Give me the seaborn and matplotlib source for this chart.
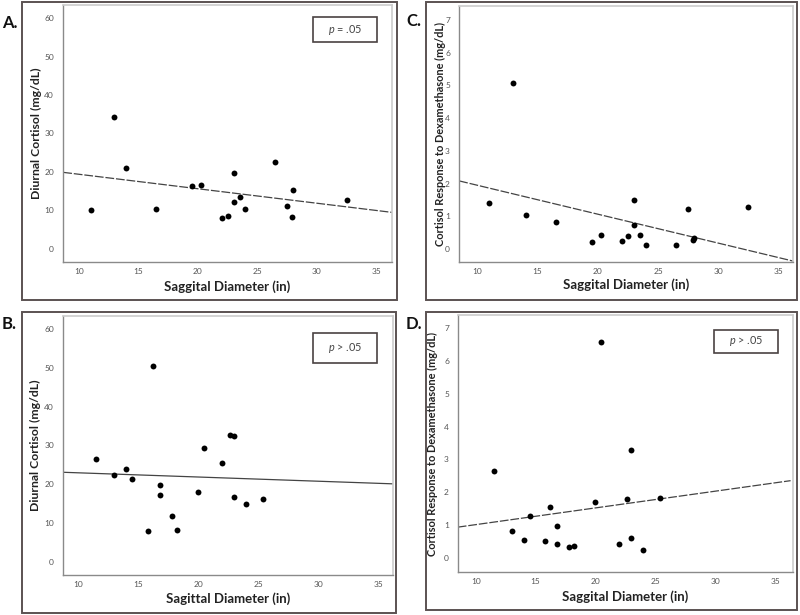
import matplotlib
matplotlib.use('Agg')
import matplotlib.pyplot as plt
import seaborn as sns
from matplotlib.patches import Rectangle

# saggital diameter (in) - same subjects in panels A and C
diam_ac = [11.0, 13.0, 14.0, 16.5, 19.5, 20.3, 22.0, 22.5, 23.0, 23.0, 23.5, 24.0, 26.5, 27.5, 28.0, 27.9, 32.5]
cort_a = [10.0, 34.2, 21.0, 10.4, 16.3, 16.5, 8.1, 8.5, 19.7, 12.2, 13.4, 10.3, 22.7, 11.1, 15.2, 8.3, 12.8]
dex_c = [1.39, 5.08, 1.04, 0.81, 0.20, 0.44, 0.24, 0.39, 1.49, 0.74, 0.42, 0.13, 0.13, 1.21, 0.33, 0.26, 1.28]

# panels B and D
diam_bd = [11.5, 13.0, 14.0, 14.5, 15.8, 16.2, 16.8, 16.8, 17.8, 18.2, 20.0, 20.5, 22.0, 22.6, 23.0, 23.0, 24.0, 25.4]
cort_b = [26.4, 22.5, 23.9, 21.3, 7.9, 50.4, 19.8, 17.2, 11.9, 8.3, 17.9, 29.3, 25.6, 32.8, 32.5, 16.6, 15.0, 16.1]
dex_d = [2.66, 0.80, 0.54, 1.26, 0.50, 1.54, 0.97, 0.43, 0.31, 0.34, 1.69, 6.59, 0.43, 1.79, 3.29, 0.61, 0.22, 1.82]

# fit lines, values at the left / right edge of each plot
fit_x_ab = [8.7, 36.3]
fit_a = [19.9, 9.5]
fit_b = [23.1, 20.1]
fit_x_cd = [8.5, 36.3]
fit_c = [2.08, -0.38]
fit_d = [0.93, 2.35]

cort_ticks = [0, 10, 20, 30, 40, 50, 60]
dex_ticks = [0, 1, 2, 3, 4, 5, 6, 7]
diam_ticks = [10, 15, 20, 25, 30, 35]

sns.set_theme(style='white')
plt.rcParams['font.family'] = ['Lato', 'DejaVu Sans']
plt.rcParams['mathtext.fontset'] = 'custom'
plt.rcParams['mathtext.it'] = 'Lato:italic'
plt.rcParams['mathtext.rm'] = 'Lato'

W, H = 800, 615
fig = plt.figure(figsize=(8, 6.15), dpi=100)


def fbox(l, t, r, b):
    return [l / W, 1 - b / H, (r - l) / W, (b - t) / H]


def frame(l, t, r, b):
    x, y, w, h = fbox(l, t, r, b)
    fig.patches.append(Rectangle((x, y), w, h, transform=fig.transFigure,
                                 fill=False, edgecolor='#5b5252', linewidth=1.4))


def pbox(l, t, r, b, txt):
    x, y, w, h = fbox(l, t, r, b)
    fig.patches.append(Rectangle((x, y), w, h, transform=fig.transFigure,
                                 fill=False, edgecolor='#4a4242', linewidth=1.2, zorder=5))
    fig.text(x + w / 2, y + h / 2, txt, ha='center', va='center', fontsize=7.8, color='#444444')


def panel(pos, xs, ys, fx, fy, xlim, ylim, yticks, xlabel, ylabel, ylab_x, xlab_y, ylab_size, dashed=True):
    ax = fig.add_axes(fbox(*pos))
    sns.scatterplot(x=xs, y=ys, ax=ax, color='black', s=18, linewidth=0, zorder=3)
    ls = (0, (7, 1.5)) if dashed else '-'
    sns.lineplot(x=fx, y=fy, ax=ax, color='#444444', linewidth=0.9, linestyle=ls)
    ax.set_xlim(xlim)
    ax.set_ylim(ylim)
    ax.set_xticks(diam_ticks)
    ax.set_yticks(yticks)
    ax.tick_params(axis='both', labelsize=6, colors='#555555', length=3, width=0.8, pad=1.5, direction='out')
    ax.tick_params(axis='y', length=5)
    for s in ['left', 'bottom']:
        ax.spines[s].set_color('#8a8a8a')
        ax.spines[s].set_linewidth(1.0)
    for s in ['top', 'right']:
        ax.spines[s].set_color('#cccccc')
        ax.spines[s].set_linewidth(1.2)
    ax.set_xlabel(xlabel, fontsize=9.5, fontweight='bold', color='#222222', va='center')
    ax.set_ylabel(ylabel, fontsize=ylab_size, fontweight='bold', color='#222222', va='center')
    ax.xaxis.set_label_coords(0.5, xlab_y)
    ax.yaxis.set_label_coords(ylab_x, 0.5)
    return ax


# outer frames
frame(22, 2, 397, 300)
frame(426, 2, 797, 300)
frame(22, 312, 396, 613)
frame(426, 312, 797, 610)

panel((63, 5, 392, 262), diam_ac, cort_a, fit_x_ab, fit_a, (8.68, 36.3), (-3.4, 63.4), cort_ticks,
      'Saggital Diameter (in)', 'Diurnal Cortisol (mg/dL)', -0.082, -0.097, 8.8)
panel((63, 316, 393, 575), diam_bd, cort_b, fit_x_ab, fit_b, (8.75, 36.2), (-3.4, 63.4), cort_ticks,
      'Sagittal Diameter (in)', 'Diurnal Cortisol (mg/dL)', -0.082, -0.091, 8.8, dashed=False)
panel((459, 6, 793, 262), diam_ac, dex_c, fit_x_cd, fit_c, (8.48, 36.2), (-0.40, 7.43), dex_ticks,
      'Saggital Diameter (in)', 'Cortisol Response to Dexamethasone (mg/dL)', -0.055, -0.09, 7.9)
panel((458, 315, 793, 572), diam_bd, dex_d, fit_x_cd, fit_d, (8.52, 36.5), (-0.44, 7.41), dex_ticks,
      'Saggital Diameter (in)', 'Cortisol Response to Dexamethasone (mg/dL)', -0.075, -0.096, 7.9)

# p-value boxes
pbox(313, 17, 377, 42, r'$p$ = .05')
pbox(313, 333, 377, 363, r'$p$ > .05')
pbox(714, 330, 778, 353, r'$p$ > .05')

# panel letters
for lbl, px, py in [('A.', 2, 23), ('B.', 2, 324), ('C.', 406, 21), ('D.', 406, 324)]:
    fig.text(px / W, 1 - py / H, lbl, fontsize=12, fontweight='bold', color='#111111', ha='left', va='center')

fig.savefig('out.png', dpi=100, facecolor='white')
